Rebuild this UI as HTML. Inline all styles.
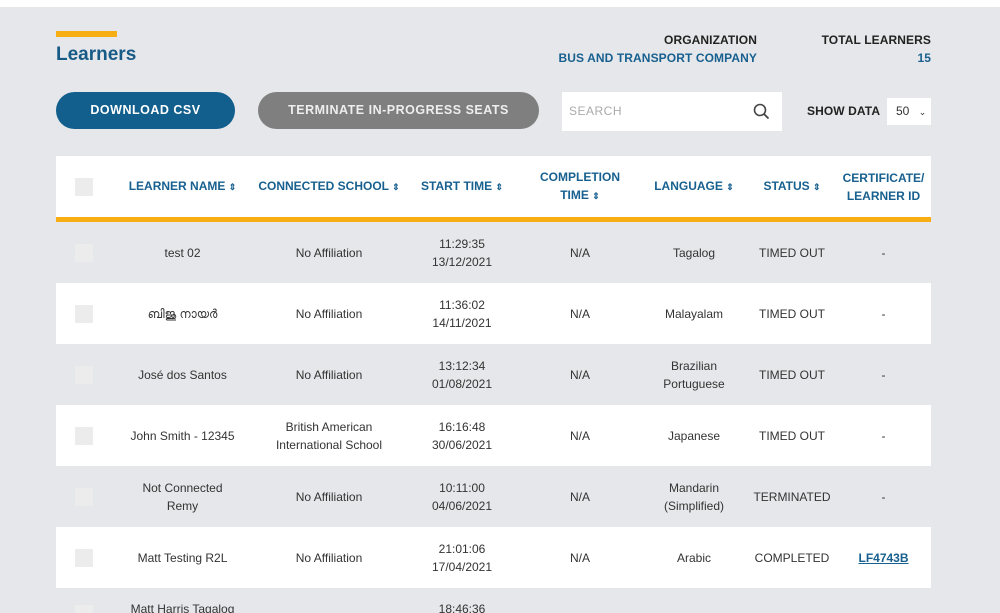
<!DOCTYPE html>
<html style="width:1000px;height:613px;overflow:hidden"><head><meta charset="utf-8"><style>
*{box-sizing:border-box;margin:0;padding:0}
body{width:1000px;height:613px;overflow:hidden;background:#e6e7ea;font-family:"Liberation Sans",sans-serif;position:relative}
.top{position:absolute;left:0;top:0;width:1000px;height:7px;background:#fff}
.a{position:absolute}
.bar{left:56px;top:31px;width:61px;height:6px;background:#f6ae12}
.title{left:56px;top:44px;font-size:19px;font-weight:bold;color:#175a86}
.hd{font-size:12px;font-weight:bold;letter-spacing:0.1px}
.btn{height:37px;border-radius:19px;color:#fff;font-size:12.5px;font-weight:bold;text-align:center;line-height:37px;letter-spacing:0.5px}
.search{left:562px;top:92px;width:220px;height:39px;background:#fff;font-size:12px;color:#aaa;line-height:39px;padding-left:7px;letter-spacing:0.5px}
.sel{left:887px;top:98px;width:44px;height:27px;background:#fff;font-size:12px;line-height:27px;padding-left:9px;color:#333}
.wrap{position:absolute;left:56px;top:156px;width:875px;height:457px;overflow:hidden}
table{width:875px;border-collapse:separate;border-spacing:0;font-size:12px;color:#333}
th{background:#fff;height:66px;color:#17608f;font-size:12px;font-weight:bold;text-align:center;border-bottom:5px solid #f6ae12;line-height:18px}
td{height:61px;text-align:center;line-height:18px}
tr.w td{background:#fff}
.cb{display:inline-block;width:18px;height:18px;background:#ececec;vertical-align:middle}
.srt{font-size:9px}
a{color:#17608f;font-weight:bold;text-decoration:underline}
</style></head><body>
<div class="top"></div>
<div class="a bar"></div>
<div class="a title">Learners</div>
<div class="a hd" style="left:640px;top:33px;width:117px;text-align:right;color:#222">ORGANIZATION</div>
<div class="a hd" style="left:540px;top:51px;width:217px;text-align:right;color:#17608f">BUS AND TRANSPORT COMPANY</div>
<div class="a hd" style="left:800px;top:33px;width:131px;text-align:right;color:#222">TOTAL LEARNERS</div>
<div class="a hd" style="left:800px;top:51px;width:131px;text-align:right;color:#17608f">15</div>
<div class="a btn" style="left:56px;top:92px;width:179px;background:#125f8d">DOWNLOAD CSV</div>
<div class="a btn" style="left:258px;top:92px;width:281px;background:#7f7f7f;color:#eee">TERMINATE IN-PROGRESS SEATS</div>
<div class="a search">SEARCH<svg style="position:absolute;left:191px;top:11px" width="17" height="17" viewBox="0 0 17 17"><circle cx="7" cy="7" r="5.5" fill="none" stroke="#444" stroke-width="1.6"/><line x1="11" y1="11" x2="15.5" y2="15.5" stroke="#444" stroke-width="1.8"/></svg></div>
<div class="a hd" style="left:807px;top:104px;color:#222">SHOW DATA</div>
<div class="a sel">50 <span style="font-size:9px;margin-left:6px">&#8964;</span></div>
<div class="wrap">
<table>
<tr><th style="width:55px"><span class="cb"></span></th><th style="width:143px">LEARNER NAME <span class="srt">&#8661;</span></th><th style="width:150px">CONNECTED SCHOOL <span class="srt">&#8661;</span></th><th style="width:116px">START TIME <span class="srt">&#8661;</span></th><th style="width:120px">COMPLETION<br>TIME <span class="srt">&#8661;</span></th><th style="width:108px">LANGUAGE <span class="srt">&#8661;</span></th><th style="width:88px">STATUS <span class="srt">&#8661;</span></th><th>CERTIFICATE/<br>LEARNER ID</th></tr>
<tr><td><span class="cb"></span></td><td>test 02</td><td>No Affiliation</td><td>11:29:35<br>13/12/2021</td><td>N/A</td><td>Tagalog</td><td>TIMED OUT</td><td>-</td></tr>
<tr class="w"><td><span class="cb"></span></td><td>ബിജു നായർ</td><td>No Affiliation</td><td>11:36:02<br>14/11/2021</td><td>N/A</td><td>Malayalam</td><td>TIMED OUT</td><td>-</td></tr>
<tr><td><span class="cb"></span></td><td>José dos Santos</td><td>No Affiliation</td><td>13:12:34<br>01/08/2021</td><td>N/A</td><td>Brazilian<br>Portuguese</td><td>TIMED OUT</td><td>-</td></tr>
<tr class="w"><td><span class="cb"></span></td><td>John Smith - 12345</td><td>British American<br>International School</td><td>16:16:48<br>30/06/2021</td><td>N/A</td><td>Japanese</td><td>TIMED OUT</td><td>-</td></tr>
<tr><td><span class="cb"></span></td><td>Not Connected<br>Remy</td><td>No Affiliation</td><td>10:11:00<br>04/06/2021</td><td>N/A</td><td>Mandarin<br>(Simplified)</td><td>TERMINATED</td><td>-</td></tr>
<tr class="w"><td><span class="cb"></span></td><td>Matt Testing R2L</td><td>No Affiliation</td><td>21:01:06<br>17/04/2021</td><td>N/A</td><td>Arabic</td><td>COMPLETED</td><td><a>LF4743B</a></td></tr>
<tr><td style="vertical-align:top;padding-top:16px"><span class="cb"></span></td><td style="vertical-align:top;padding-top:12px">Matt Harris Tagalog</td><td></td><td style="vertical-align:top;padding-top:12px">18:46:36</td><td></td><td></td><td></td><td></td></tr>
</table>
</div>
</body></html>
